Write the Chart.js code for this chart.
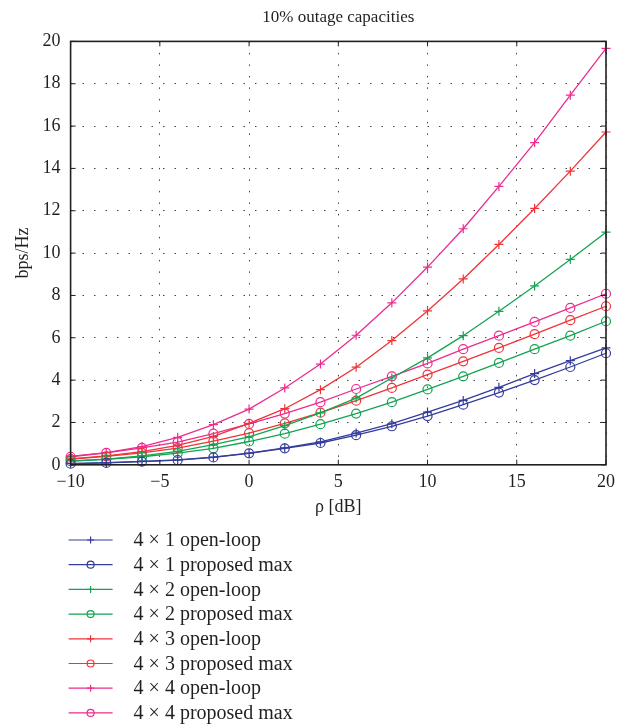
<!DOCTYPE html>
<html lang="en">
<head>
  <meta charset="UTF-8">
  <title>10% outage capacities</title>
  <script src="https://cdn.jsdelivr.net/npm/chart.js"></script>
  <style>
    html, body { margin: 0; padding: 0; background: #fff; }
    #wrap { width: 629px; height: 728px; position: relative; }
  </style>
</head>
<body>
  <div id="wrap"><canvas id="capChart"></canvas></div>
  <script>
    // rho in dB
    const snr = [-10, -8, -6, -4, -2, 0, 2, 4, 6, 8, 10, 12, 14, 16, 18, 20];
    const xTicks = [-10, -5, 0, 5, 10, 15, 20];
    const yTicks = [0, 2, 4, 6, 8, 10, 12, 14, 16, 18, 20];

    // 10% outage capacity, bps/Hz
    const open41 = [0.06, 0.10, 0.16, 0.23, 0.36, 0.55, 0.80, 1.08, 1.50, 1.94, 2.49, 3.04, 3.66, 4.31, 4.92, 5.52];
    const prop41 = [0.05, 0.09, 0.15, 0.22, 0.35, 0.54, 0.78, 1.03, 1.40, 1.82, 2.30, 2.84, 3.41, 4.00, 4.62, 5.27];
    const open42 = [0.18, 0.27, 0.42, 0.63, 0.95, 1.32, 1.85, 2.45, 3.15, 4.10, 5.05, 6.10, 7.25, 8.45, 9.70, 10.99];
    const prop42 = [0.17, 0.26, 0.38, 0.55, 0.78, 1.10, 1.47, 1.92, 2.42, 2.96, 3.56, 4.18, 4.81, 5.46, 6.10, 6.78];
    const open43 = [0.28, 0.42, 0.62, 0.92, 1.34, 1.96, 2.65, 3.55, 4.61, 5.87, 7.27, 8.78, 10.41, 12.11, 13.87, 15.72];
    const prop43 = [0.27, 0.40, 0.56, 0.79, 1.12, 1.50, 1.96, 2.46, 3.03, 3.63, 4.26, 4.89, 5.52, 6.17, 6.83, 7.49];
    const open44 = [0.40, 0.58, 0.86, 1.30, 1.90, 2.63, 3.63, 4.76, 6.12, 7.65, 9.34, 11.15, 13.15, 15.22, 17.46, 19.67];
    const prop44 = [0.38, 0.56, 0.80, 1.07, 1.47, 1.93, 2.42, 2.96, 3.58, 4.18, 4.79, 5.46, 6.10, 6.75, 7.41, 8.08];

    const seriesNames = [
      '4 \u00d7 1 open-loop', '4 \u00d7 1 proposed max',
      '4 \u00d7 2 open-loop', '4 \u00d7 2 proposed max',
      '4 \u00d7 3 open-loop', '4 \u00d7 3 proposed max',
      '4 \u00d7 4 open-loop', '4 \u00d7 4 proposed max'
    ];
    const seriesValues = [open41, prop41, open42, prop42, open43, prop43, open44, prop44];
    const colors = ['#343c9c', '#343c9c', '#12a450', '#12a450', '#ee3438', '#ee3438', '#ec2c8e', '#ec2c8e'];

    const serif = '"Liberation Serif", "Times New Roman", serif';
    const ink = '#231f20';

    const datasets = seriesValues.map((vals, i) => ({
      label: seriesNames[i],
      data: snr.map((x, j) => ({ x: x, y: vals[j] })),
      borderColor: colors[i],
      backgroundColor: 'rgba(0,0,0,0)',
      borderWidth: 1.3,
      pointStyle: i % 2 === 0 ? 'cross' : 'circle',
      pointRadius: 4.5,
      pointBorderWidth: 1.2,
      pointBorderColor: colors[i],
      pointBackgroundColor: 'rgba(0,0,0,0)',
      tension: 0,
      clip: false
    }));

    // box + inward ticks like matlab
    const framePlugin = {
      id: 'frame',
      afterDatasetsDraw(chart) {
        const { ctx, chartArea: a, scales } = chart;
        ctx.save();
        ctx.strokeStyle = ink;
        ctx.lineWidth = 1.6;
        ctx.strokeRect(a.left, a.top, a.right - a.left, a.bottom - a.top);
        ctx.lineWidth = 1;
        const t = 5;
        ctx.beginPath();
        xTicks.forEach(v => {
          const px = scales.x.getPixelForValue(v);
          ctx.moveTo(px, a.bottom); ctx.lineTo(px, a.bottom - t);
          ctx.moveTo(px, a.top); ctx.lineTo(px, a.top + t);
        });
        yTicks.forEach(v => {
          const py = scales.y.getPixelForValue(v);
          ctx.moveTo(a.left, py); ctx.lineTo(a.left + t, py);
          ctx.moveTo(a.right, py); ctx.lineTo(a.right - t, py);
        });
        ctx.stroke();
        ctx.restore();
      }
    };

    // one-per-row legend under the axes
    const legendPlugin = {
      id: 'stackLegend',
      afterDraw(chart) {
        const ctx = chart.ctx;
        const x0 = chart.chartArea.left - 2;
        ctx.save();
        ctx.font = '20px ' + serif;
        ctx.textBaseline = 'middle';
        chart.data.datasets.forEach((ds, i) => {
          const y = 540 + i * 24.7;
          ctx.strokeStyle = ds.borderColor;
          ctx.lineWidth = 1.2;
          ctx.beginPath();
          ctx.moveTo(x0, y);
          ctx.lineTo(x0 + 44, y);
          ctx.stroke();
          ctx.fillStyle = 'rgba(0,0,0,0)';
          Chart.helpers.drawPoint(ctx, {
            pointStyle: ds.pointStyle, radius: 3.5, borderWidth: 1.2, rotation: 0
          }, x0 + 22, y);
          ctx.fillStyle = ink;
          ctx.fillText(ds.label, x0 + 65, y + 1);
        });
        ctx.restore();
      }
    };

    new Chart(document.getElementById('capChart'), {
      type: 'line',
      data: { datasets: datasets },
      options: {
        responsive: true,
        maintainAspectRatio: false,
        animation: false,
        layout: { padding: { left: 12, right: 23, top: 0, bottom: 210 } },
        plugins: {
          legend: { display: false },
          tooltip: { enabled: false },
          title: {
            display: true,
            text: '10% outage capacities',
            fullSize: false,
            color: ink,
            font: { family: serif, size: 17, weight: 'normal' },
            padding: { top: 7, bottom: 14 }
          }
        },
        scales: {
          x: {
            type: 'linear',
            min: -10, max: 20,
            afterBuildTicks: axis => { axis.ticks = xTicks.map(v => ({ value: v })); },
            grid: { color: '#444', lineWidth: 1, drawTicks: false },
            border: { display: false, dash: [1.5, 10] },
            ticks: {
              color: ink, padding: 7,
              font: { family: serif, size: 18 },
              callback: v => String(v).replace('-', '\u2212')
            },
            title: {
              display: true, text: '\u03c1 [dB]', color: ink,
              font: { family: serif, size: 18 },
              padding: { top: -4, bottom: 0 }
            }
          },
          y: {
            min: 0, max: 20,
            afterBuildTicks: axis => { axis.ticks = yTicks.map(v => ({ value: v })); },
            grid: { color: '#444', lineWidth: 1, drawTicks: false },
            border: { display: false, dash: [1.5, 10] },
            ticks: {
              color: ink, padding: 10,
              font: { family: serif, size: 18 }
            },
            title: {
              display: true, text: 'bps/Hz', color: ink,
              font: { family: serif, size: 18 },
              padding: { top: 0, bottom: -1 }
            }
          }
        }
      },
      plugins: [framePlugin, legendPlugin]
    });
  </script>
</body>
</html>
